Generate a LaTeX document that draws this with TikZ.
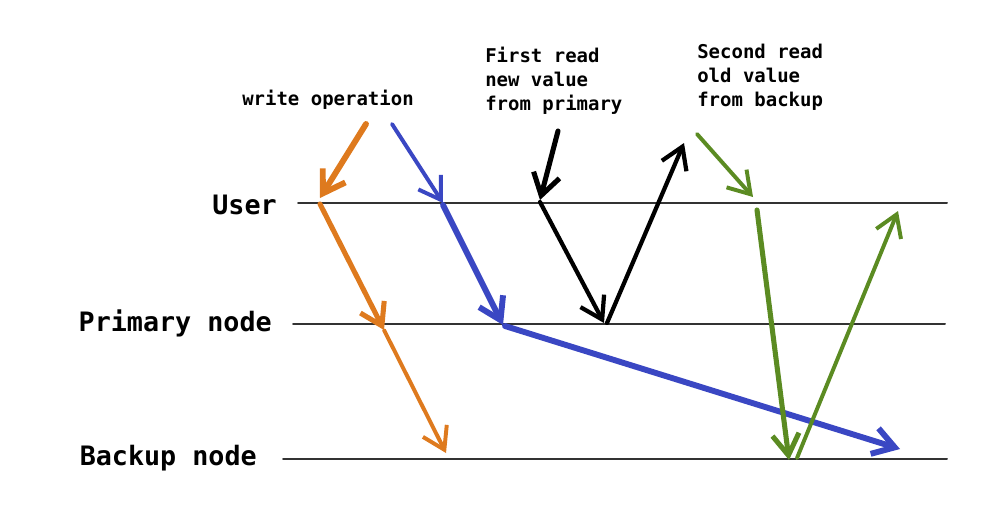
\documentclass[tikz,border=0pt]{standalone}
\usepackage{fontspec}
\setmonofont{DejaVu Sans Mono}
\usetikzlibrary{arrows.meta}
\definecolor{wrorange}{HTML}{DE7A1E}
\definecolor{wrblue}{HTML}{3A47C3}
\definecolor{rdgreen}{HTML}{5B8B22}

\begin{document}
\begin{tikzpicture}[x=0.025cm,y=-0.025cm,line cap=round,line join=round,
    >={Straight Barb[length=15pt,width=19pt]},
    lane/.style={draw=black!80,line width=1.4pt},
    lanelabel/.style={anchor=east,inner sep=0pt,font=\ttfamily\bfseries\fontsize{19pt}{23pt}\selectfont},
    note/.style={inner sep=0pt,align=left,font=\ttfamily\bfseries\fontsize{13.5pt}{17pt}\selectfont}]
    \useasboundingbox (0,0) rectangle (1001,515);

    % the three time lines
    \coordinate (userL) at (298,203);  \coordinate (userR) at (947,203);
    \coordinate (primL) at (293,324);  \coordinate (primR) at (945,324);
    \coordinate (backL) at (283,459);  \coordinate (backR) at (947,459);
    \draw[lane] (userL) -- (userR);
    \draw[lane] (primL) -- (primR);
    \draw[lane] (backL) -- (backR);

    % labels of the lines
    \node[lanelabel] (user) at (277,205) {User};
    \node[lanelabel] (prim) at (272,323) {Primary node};
    \node[lanelabel] (back) at (257,458) {Backup node};

    % texts at the top
    \node[note] (write) at (328,100) {write operation};
    \node[note,anchor=west] (first) at (485,81) {First read\\new value\\from primary};
    \node[note,anchor=west] (second) at (697,77) {Second read\\old value\\from backup};

    %write to user
    \coordinate (o0) at (366,124);
    \coordinate (o1) at (320,198);
    \coordinate (o1b) at (320,204);
    \coordinate (o2) at (384,330);
    \coordinate (o3) at (446,453);
    \draw[wrorange,->,line width=4.2pt] (o0) -- (o1);
    \draw[wrorange,->,line width=3.6pt] (o1b) -- (o2);
    \draw[wrorange,->,line width=2.8pt] (o2) -- (o3);

    %write to primary
    \coordinate (b0) at (392,124);
    \coordinate (b1) at (443,203);
    \coordinate (b1b) at (443,205);
    \coordinate (b2) at (503,325);
    \coordinate (b2b) at (505,326);
    \coordinate (b3) at (900,449);
    \draw[wrblue,->,line width=2.8pt] (b0) -- (b1);
    \draw[wrblue,->,line width=4.2pt] (b1b) -- (b2);
    \draw[wrblue,->,line width=4.2pt] (b2b) -- (b3);

    %first read
    \coordinate (k0) at (558,131);
    \coordinate (k1) at (540,200);
    \coordinate (k1b) at (540,202);
    \coordinate (k2) at (604,323);
    \coordinate (k2b) at (607,323);
    \coordinate (k3) at (684,143);
    \draw[black,->,line width=3.6pt] (k0) -- (k1);
    \draw[black,->,line width=3pt] (k1b) -- (k2);
    \draw[black,->,line width=3pt] (k2b) -- (k3);

    %second read
    \coordinate (g0) at (697,134);
    \coordinate (g1) at (753,197);
    \coordinate (g1b) at (757,210);
    \coordinate (g2) at (789,460);
    \coordinate (g2b) at (797,458);
    \coordinate (g3) at (898,211);
    \draw[rdgreen,->,line width=2.8pt] (g0) -- (g1);
    \draw[rdgreen,->,line width=3.6pt] (g1b) -- (g2);
    \draw[rdgreen,->,line width=2.8pt] (g2b) -- (g3);
\end{tikzpicture}
\end{document}
